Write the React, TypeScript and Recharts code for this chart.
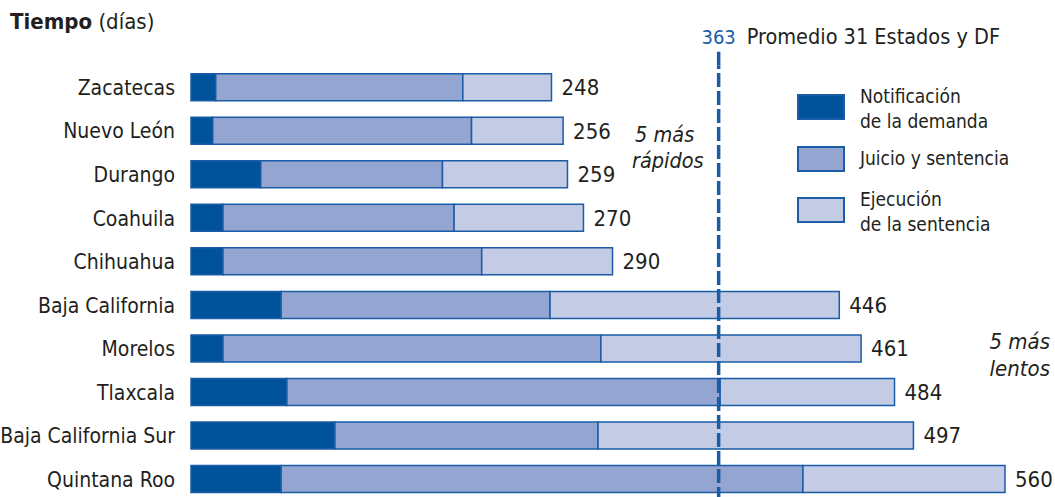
import React from 'react'
import { BarChart, Bar, XAxis, YAxis, ReferenceLine, LabelList } from 'recharts'

const estados = [
  'Zacatecas',
  'Nuevo León',
  'Durango',
  'Coahuila',
  'Chihuahua',
  'Baja California',
  'Morelos',
  'Tlaxcala',
  'Baja California Sur',
  'Quintana Roo',
]
const notificacion = [17, 15, 48, 22, 22, 62, 22, 66, 99, 62]
const juicio = [170, 178, 125, 159, 178, 185, 260, 298, 181, 359]
const ejecucion = [61, 63, 86, 89, 90, 199, 179, 120, 217, 139]
const totales = [248, 256, 259, 270, 290, 446, 461, 484, 497, 560]
const promedio = 363

const data = estados.map((estado, i) => ({
  estado,
  notificacion: notificacion[i],
  juicio: juicio[i],
  ejecucion: ejecucion[i],
  total: totales[i],
}))

const FONT = '"DejaVu Sans Condensed", "Liberation Sans", sans-serif'
const INK = '#231f20'
const EDGE = '#1a5ca6'
const DARK = '#00529b'
const MID = '#93a5d0'
const LIGHT = '#c3cbe5'

const legendItems = [
  { color: DARK, lines: ['Notificación', 'de la demanda'], top: 94 },
  { color: MID, lines: ['Juicio y sentencia'], top: 146 },
  { color: LIGHT, lines: ['Ejecución', 'de la sentencia'], top: 197 },
]

function AvgLabel(props: any) {
  const { x, y } = props.viewBox
  return (
    <g>
      <line x1={x} x2={x} y1={y - 14} y2={y} stroke={EDGE} strokeWidth={3.5} strokeDasharray="14 4" />
      <text x={x} y={y - 22} textAnchor="middle" fill={EDGE} fontSize={20} fontFamily={FONT}>
        {promedio}
      </text>
      <text x={x + 28} y={y - 22} fill={INK} fontSize={21.5} fontFamily={FONT}>
        Promedio 31 Estados y DF
      </text>
    </g>
  )
}

export default function App() {
  return (
    <div
      style={{
        position: 'absolute',
        left: 0,
        top: 0,
        width: 1055,
        height: 497,
        overflow: 'hidden',
        background: '#fff',
        fontFamily: FONT,
        color: INK,
      }}
    >
      <div style={{ position: 'absolute', left: 10, top: 9, fontSize: 22 }}>
        <b>Tiempo</b> (días)
      </div>

      <BarChart
        width={1055}
        height={501}
        data={data}
        layout="vertical"
        margin={{ top: 65.75, right: 50, bottom: 0, left: 0 }}
        barSize={27}
      >
        <XAxis type="number" domain={[0, 560]} hide />
        <YAxis
          type="category"
          dataKey="estado"
          width={191}
          tickLine={false}
          axisLine={false}
          tickMargin={10}
          tick={{ fill: INK, fontSize: 21, fontFamily: FONT }}
          interval={0}
        />
        <Bar dataKey="notificacion" stackId="t" fill={DARK} stroke={EDGE} strokeWidth={1.5} isAnimationActive={false} />
        <Bar dataKey="juicio" stackId="t" fill={MID} stroke={EDGE} strokeWidth={1.5} isAnimationActive={false} />
        <Bar dataKey="ejecucion" stackId="t" fill={LIGHT} stroke={EDGE} strokeWidth={1.5} isAnimationActive={false}>
          <LabelList dataKey="total" position="right" offset={10} fill={INK} fontSize={22} fontFamily={FONT} />
        </Bar>
        <ReferenceLine
          x={promedio}
          stroke={EDGE}
          strokeWidth={3.5}
          strokeDasharray="14 4"
          ifOverflow="visible"
          label={(p: any) => <AvgLabel {...p} />}
        />
      </BarChart>

      {legendItems.map((item) => (
        <div key={item.color} style={{ position: 'absolute', left: 797, top: item.top }}>
          <div
            style={{
              position: 'absolute',
              left: 0,
              top: 0,
              width: 48,
              height: 26,
              background: item.color,
              border: `2px solid ${EDGE}`,
              boxSizing: 'border-box',
            }}
          />
          <div
            style={{
              position: 'absolute',
              left: 63,
              top: item.lines.length > 1 ? -10 : 0,
              fontSize: 19,
              lineHeight: '25px',
              whiteSpace: 'nowrap',
            }}
          >
            {item.lines.map((l) => (
              <div key={l}>{l}</div>
            ))}
          </div>
        </div>
      ))}

      <div style={{ position: 'absolute', left: 632, top: 122, fontSize: 21.5, fontStyle: 'italic', lineHeight: '26px' }}>
        <div style={{ paddingLeft: 3 }}>5 más</div>
        <div>rápidos</div>
      </div>
      <div
        style={{
          position: 'absolute',
          right: 5,
          top: 328,
          fontSize: 22,
          fontStyle: 'italic',
          lineHeight: '27px',
          textAlign: 'right',
        }}
      >
        <div>5 más</div>
        <div>lentos</div>
      </div>
    </div>
  )
}
